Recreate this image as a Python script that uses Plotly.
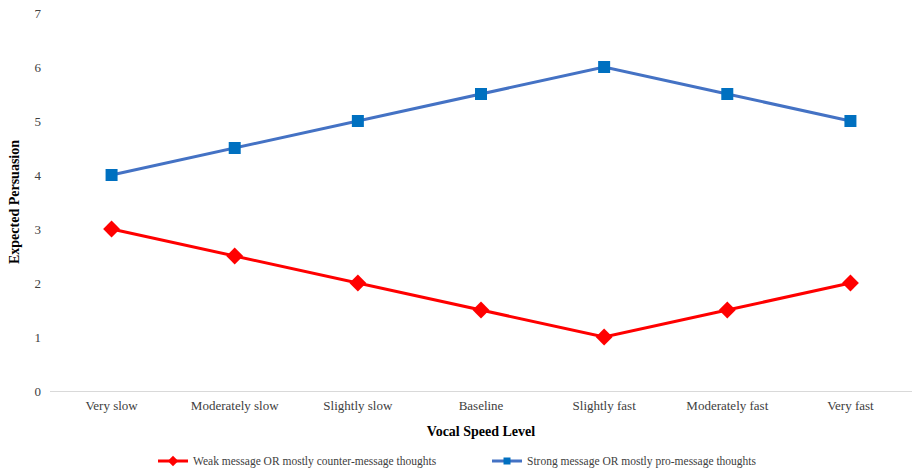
import plotly.graph_objects as go

categories = ["Very slow", "Moderately slow", "Slightly slow", "Baseline",
              "Slightly fast", "Moderately fast", "Very fast"]
weak_values = [3, 2.5, 2, 1.5, 1, 1.5, 2]
strong_values = [4, 4.5, 5, 5.5, 6, 5.5, 5]
y_ticks = [0, 1, 2, 3, 4, 5, 6, 7]

weak_name = "Weak message OR mostly counter-message thoughts"
strong_name = "Strong message OR mostly pro-message thoughts"

FONT = "Liberation Serif, Times New Roman, serif"
RED = "#FF0000"
BLUE_LINE = "#4472C4"
BLUE_MARK = "#0070C0"

fig = go.Figure()
fig.add_trace(go.Scatter(
    x=categories, y=weak_values, mode="lines+markers", name=weak_name,
    line=dict(color=RED, width=3), showlegend=False,
    marker=dict(symbol="diamond", size=13, color=RED),
))
fig.add_trace(go.Scatter(
    x=categories, y=strong_values, mode="lines+markers", name=strong_name,
    line=dict(color=BLUE_LINE, width=3), showlegend=False,
    marker=dict(symbol="square", size=12, color=BLUE_MARK),
))
# legend entries with smaller symbols
fig.add_trace(go.Scatter(
    x=[None], y=[None], mode="lines+markers", name=weak_name,
    line=dict(color=RED, width=3),
    marker=dict(symbol="diamond", size=8, color=RED),
))
fig.add_trace(go.Scatter(
    x=[None], y=[None], mode="lines+markers", name=strong_name,
    line=dict(color=BLUE_LINE, width=3),
    marker=dict(symbol="square", size=7, color=BLUE_MARK),
))

fig.update_layout(
    width=912, height=468,
    margin=dict(l=50, r=0, t=13, b=77, autoexpand=False),
    paper_bgcolor="white", plot_bgcolor="white",
    font=dict(family=FONT, size=13, color="#404040"),
    showlegend=True,
    legend=dict(orientation="h", x=0.1195, xanchor="left", y=-0.185, yanchor="middle",
                font=dict(family=FONT, size=11.5, color="#404040"),
                itemwidth=30, tracegroupgap=0,
                entrywidth=289, entrywidthmode="pixels"),
    xaxis=dict(
        type="category", categoryorder="array", categoryarray=categories,
        range=[-0.5, 6.5], showgrid=False, zeroline=False,
        showline=True, linecolor="#D9D9D9", linewidth=1,
        ticks="", tickfont=dict(family=FONT, size=13, color="#404040"),
        ticklabelstandoff=2,
        title=dict(text="<b>Vocal Speed Level</b>", standoff=14,
                   font=dict(family=FONT, size=14, color="black")),
    ),
    yaxis=dict(
        range=[0, 7], tickvals=y_ticks, showgrid=False, zeroline=False,
        showline=False, ticks="",
        tickfont=dict(family=FONT, size=13, color="#404040"),
        ticklabelstandoff=8,
        title=dict(text="<b>Expected Persuasion</b>", standoff=11,
                   font=dict(family=FONT, size=14, color="black")),
    ),
)

fig.write_html("out.html")
